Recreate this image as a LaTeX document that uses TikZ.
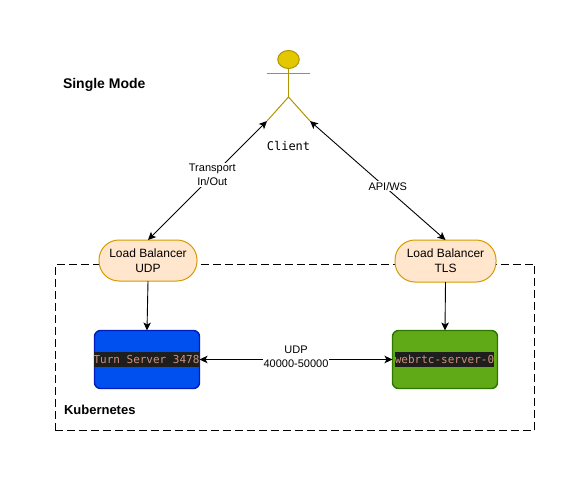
\documentclass[tikz,border=0pt]{standalone}
\usepackage{fontspec}
\setmainfont{Liberation Sans}
\setmonofont{DejaVu Sans Mono}
\usetikzlibrary{arrows.meta,shapes.geometric}
\definecolor{lbfill}{HTML}{FFE6CC}
\definecolor{lbline}{HTML}{D79B00}
\definecolor{bluefill}{HTML}{0050EF}
\definecolor{blueline}{HTML}{001DBC}
\definecolor{greenfill}{HTML}{60A917}
\definecolor{greenline}{HTML}{2D7600}
\definecolor{actfill}{HTML}{E3C800}
\definecolor{actline}{HTML}{B09500}
\definecolor{codebg}{HTML}{1E1E1E}
\definecolor{codefg}{HTML}{CE9178}
\tikzset{
  x=1pt,y=-1pt,
  every node/.style={inner sep=0pt,outer sep=0pt,align=center,text=black},
  lb/.style={draw=lbline,fill=lbfill,line width=1pt,rounded corners=20pt,minimum height=41pt,font=\fontsize{12}{15}\selectfont},
  server/.style={line width=1.4pt,rounded corners=6pt,minimum width=105pt,minimum height=58pt},
  code/.style={fill=codebg,text=codefg,font=\ttfamily\fontsize{11}{14}\selectfont,minimum height=15pt},
  conn/.style={draw=black,line width=.9pt,-{Stealth[length=8pt,width=7.5pt,inset=2pt]}},
  biconn/.style={conn,{Stealth[length=8pt,width=7.5pt,inset=2pt]}-{Stealth[length=8pt,width=7.5pt,inset=2pt]}},
  elabel/.style={fill=white,font=\fontsize{11}{14}\selectfont,inner sep=1pt},
  actorline/.style={draw=actline,line width=1pt},
  title/.style={font=\bfseries,anchor=west}
}
\begin{document}
\begin{tikzpicture}
\useasboundingbox (0,0) rectangle (585,481);
\fill[white] (0,0) rectangle (585,481);
% cluster
\node[draw=black,line width=.9pt,dash pattern=on 8pt off 4pt,minimum width=479.5pt,minimum height=166.5pt] (cluster) at (294.75,347.5) {};
\node[title,font=\bfseries\fontsize{13}{15}\selectfont] (k8s) at (64,409.5) {Kubernetes};
\node[title,font=\bfseries\fontsize{14}{17}\selectfont] (mode) at (63,85) {Single Mode};
% actor
\node[draw=actline,fill=actfill,line width=1pt,ellipse,minimum width=21.5pt,minimum height=18pt] (head) at (288.5,59.5) {};
\coordinate (armL) at (267,73.5);
\coordinate (armR) at (310,73.5);
\coordinate (hip) at (288.5,97);
\coordinate (legL) at (267,121);
\coordinate (legR) at (310,121);
\draw[actorline] (armL) -- (armR);
\draw[actorline] (head.south) -- (hip);
\draw[actorline] (legL) -- (hip) -- (legR);
\node[font=\ttfamily\fontsize{12}{15}\selectfont] (client) at (288.5,145.5) {Client};
% balancers
\node[lb,minimum width=98pt] (lbu) at (148,260.5) {Load Balancer\\UDP};
\node[lb,minimum width=101pt,minimum height=42pt] (lbt) at (445.5,261) {Load Balancer\\TLS};
% servers
\node[server,draw=blueline,fill=bluefill] (turn) at (147,359.5) {};
\node[server,draw=greenline,fill=greenfill] (web) at (445,359.5) {};
\node[code] (turnt) at (146.5,359.5) {Turn Server 3478};
\node[code] (webt) at (444.5,359.5) {webrtc-server-0};
% connectors
\draw[biconn] (lbu.north) -- (legL) node[pos=.54,elabel,yshift=1pt] (t1) {Transport\\In/Out};
\draw[biconn] (legR) -- (lbt.north) node[pos=.574,elabel,yshift=3pt] (t2) {API/WS};
\draw[conn] (lbu.south) -- (turn.north);
\draw[conn] (lbt.south) -- (web.north);
\draw[biconn] (turn.east) -- (web.west) node[midway,elabel,yshift=3pt] (t3) {UDP\\40000-50000};
\end{tikzpicture}
\end{document}
